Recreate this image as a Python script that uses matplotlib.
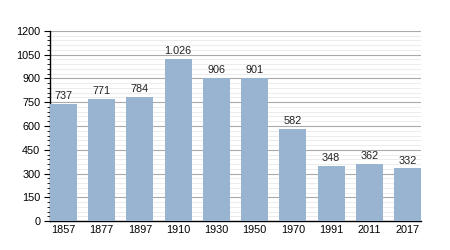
import matplotlib
matplotlib.use("Agg")
import matplotlib.pyplot as plt
from matplotlib.ticker import MultipleLocator

years = ["1857", "1877", "1897", "1910", "1930", "1950", "1970", "1991", "2011", "2017"]
population = [737, 771, 784, 1026, 906, 901, 582, 348, 362, 332]
labels = ["737", "771", "784", "1.026", "906", "901", "582", "348", "362", "332"]

plt.rcParams['font.family'] = ['Liberation Sans', 'DejaVu Sans']
fig = plt.figure(figsize=(4.5, 2.5), dpi=100)
ax = fig.add_axes([50/450, 1 - 221/250, 371/450, 190/250])

x = list(range(len(years)))
bars = ax.bar(x, population, width=0.7, color="#98b4d1", zorder=3)
for xi, v, lab in zip(x, population, labels):
    ax.text(xi, v + 18, lab, ha="center", va="bottom", fontsize=7.8, color="#222222", zorder=4)

ax.set_xlim(-0.35, len(years) - 1 + 0.35)
ax.set_ylim(0, 1200)
ax.yaxis.set_major_locator(MultipleLocator(150))
ax.yaxis.set_minor_locator(MultipleLocator(30))
ax.set_xticks(x)
ax.set_xticklabels(years)
ax.grid(which="major", axis="y", color="#aaaaaa", linewidth=0.8, zorder=1)
ax.grid(which="minor", axis="y", color="#e4e4e4", linewidth=0.5, zorder=0)
for s in ["top", "right"]:
    ax.spines[s].set_visible(False)
ax.spines["left"].set_linewidth(1.0)
ax.spines["bottom"].set_linewidth(1.0)
ax.tick_params(axis="x", length=0, labelsize=7.8, pad=3)
ax.tick_params(axis="y", which="major", length=4, labelsize=7.8, pad=3)
ax.tick_params(axis="y", which="minor", length=2)
ax.set_axisbelow(True)

fig.savefig("out.png", dpi=100)
